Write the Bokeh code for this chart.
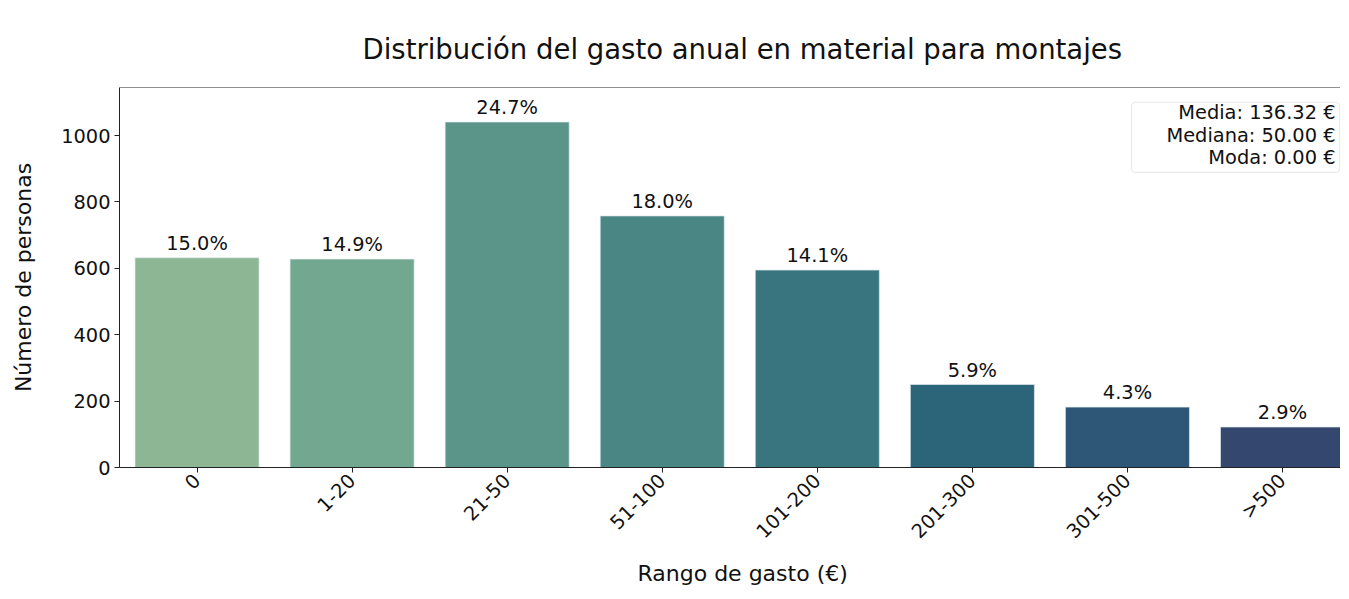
from math import pi
from bokeh.plotting import figure
from bokeh.models import Range1d, FixedTicker, Label, ColumnDataSource, BoxAnnotation, Title, Span
from bokeh.core.properties import value
from bokeh.embed import file_html
from bokeh.resources import INLINE

categories = ["0", "1-20", "21-50", "51-100", "101-200", "201-300", "301-500", ">500"]
counts = [632, 628, 1041, 758, 595, 250, 182, 122]
pct_labels = ["15.0%", "14.9%", "24.7%", "18.0%", "14.1%", "5.9%", "4.3%", "2.9%"]
colors = ["#8db794", "#72a790", "#5b958a", "#498684", "#38757e", "#2c657a", "#2d5677", "#34476f"]
y_ticks = [0, 200, 400, 600, 800, 1000]
stats_text = "Media: 136.32 €\nMediana: 50.00 €\nModa: 0.00 €"
title_text = "Distribución del gasto anual en material para montajes"
xlabel_text = "Rango de gasto (€)"
ylabel_text = "Número de personas"

FONT = "DejaVu Sans"
FS = "19.4px"
xs = list(range(len(categories)))
src = ColumnDataSource(dict(x=xs, top=counts, color=colors, pct=pct_labels))

p = figure(width=1340, height=590, output_backend="svg", toolbar_location=None,
           x_range=Range1d(-0.5, 7.374), y_range=Range1d(0, 1145),
           min_border_left=119, min_border_right=0, min_border_top=87, min_border_bottom=123)

p.title.text = title_text
p.title.align = "left"
p.title.offset = 243
p.title.standoff = 45
p.title.text_font = FONT
p.title.text_font_size = "27.5px"
p.title.text_font_style = "normal"
p.title.text_color = "#111111"

p.vbar(x="x", top="top", width=0.8, bottom=0, fill_color="color",
       line_color="#dfe9ee", line_alpha=0.7, line_width=1, source=src)

p.text(x="x", y="top", text="pct", source=src, text_align="center", text_baseline="bottom",
       y_offset=-3, text_font=value(FONT), text_font_size=FS, text_color="#111111")

p.grid.visible = False
p.outline_line_color = None
p.background_fill_color = "white"

xa = p.xaxis[0]
xa.ticker = FixedTicker(ticks=xs)
xa.major_label_overrides = {i: c for i, c in enumerate(categories)}
xa.major_label_orientation = pi / 4
xa.minor_tick_line_color = None
xa.major_tick_in = 0
xa.major_tick_out = 5
xa.major_label_text_font = FONT
xa.major_label_text_font_size = FS
xa.major_label_standoff = 5
xa.axis_line_color = "#222222"
xa.major_tick_line_color = "#222222"
xa.major_label_text_color = "#111111"

xlabel = Title(text=xlabel_text, align="left", offset=518, standoff=9,
               text_font=FONT, text_font_size="22px", text_font_style="normal",
               text_color="#111111")
p.add_layout(xlabel, "below")

ya = p.yaxis[0]
ya.ticker = FixedTicker(ticks=y_ticks)
ya.minor_tick_line_color = None
ya.major_tick_in = 0
ya.major_tick_out = 5
ya.axis_label = ylabel_text
ya.axis_label_text_font = FONT
ya.axis_label_text_font_size = "22px"
ya.axis_label_text_font_style = "normal"
ya.axis_label_text_color = "#111111"
ya.axis_label_standoff = 22
ya.major_label_text_font = FONT
ya.major_label_text_font_size = FS
ya.major_label_standoff = 4
ya.axis_line_color = "#222222"
ya.major_tick_line_color = "#222222"
ya.major_label_text_color = "#111111"

top_spine = Span(location=1145, dimension="width", line_color="#222222", line_width=1)
p.add_layout(top_spine)

box = BoxAnnotation(left=6.026, right=7.368, top=1100, bottom=889,
                    fill_color="white", fill_alpha=0.8,
                    line_color="#bbbbbb", line_width=1.2, border_radius=4)
p.add_layout(box)

stats = Label(x=7.342, y=1103, text=stats_text, text_align="right", text_baseline="top",
              text_font=FONT, text_font_size=FS, text_color="#111111", text_line_height=0.96)
p.add_layout(stats)

open("out.html", "w").write(file_html(p, INLINE))
